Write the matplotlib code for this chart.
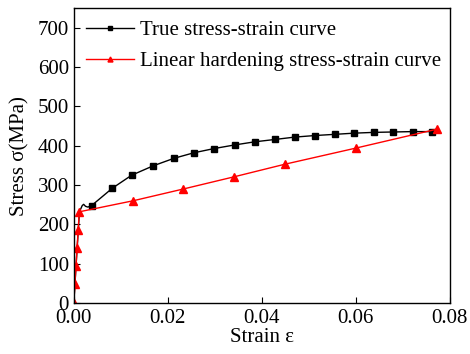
import matplotlib
matplotlib.use("Agg")
import matplotlib.pyplot as plt

plt.rcParams['font.family'] = ['Liberation Serif', 'DejaVu Serif']

# true stress-strain curve (black squares)
true_strain = [0.0, 0.0006, 0.0012, 0.0015, 0.0018, 0.0021, 0.0025, 0.003,
               0.0038, 0.0082, 0.0123, 0.0169, 0.0213, 0.0255, 0.0299, 0.0342,
               0.0385, 0.0428, 0.047, 0.0513, 0.0555, 0.0596, 0.0638, 0.0679,
               0.0721, 0.0763]
true_stress = [0, 118, 232, 240, 248, 251, 246, 244,
               248, 292, 325, 349, 368, 382, 393, 402,
               410, 416, 422, 426, 429, 432, 434, 435,
               436, 436]
true_marks = list(range(8, len(true_strain)))

# linear hardening curve (red triangles)
lin_strain = [0.0, 0.00024, 0.00047, 0.0007, 0.00093, 0.00116,
              0.0126, 0.0233, 0.0341, 0.0449, 0.06, 0.0772]
lin_stress = [0, 48, 94, 140, 186, 232,
              260, 290, 321, 353, 394, 442]

fig = plt.figure(figsize=(4.7, 3.54), dpi=100)
ax = fig.add_axes([0.157, 0.144, 0.8, 0.833])

ax.plot(true_strain, true_stress, color='black', lw=1.0, marker='s', ms=5,
        markevery=true_marks, label='True stress-strain curve')
ax.plot(lin_strain, lin_stress, color='red', lw=1.0, marker='^', ms=6,
        label='Linear hardening stress-strain curve')

ax.set_xlim(0, 0.08)
ax.set_ylim(0, 750)
ax.set_xticks([0, 0.02, 0.04, 0.06, 0.08])
ax.set_xticklabels(['0.00', '0.02', '0.04', '0.06', '0.08'])
ax.set_yticks(range(0, 701, 100))
ax.tick_params(direction='in', labelsize=15, length=4)
ax.tick_params(axis='x', pad=4)
for s in ax.spines.values():
    s.set_linewidth(1.0)

ax.set_xlabel('Strain ε', fontsize=15, labelpad=0)
ax.set_ylabel('Stress σ(MPa)', fontsize=15, labelpad=6)

leg = ax.legend(loc='upper left', fontsize=15, frameon=False, handlelength=2.3,
                handletextpad=0.3, borderaxespad=0.2, labelspacing=0.55,
                markerscale=0.6)

plt.savefig('out.png', dpi=100)
